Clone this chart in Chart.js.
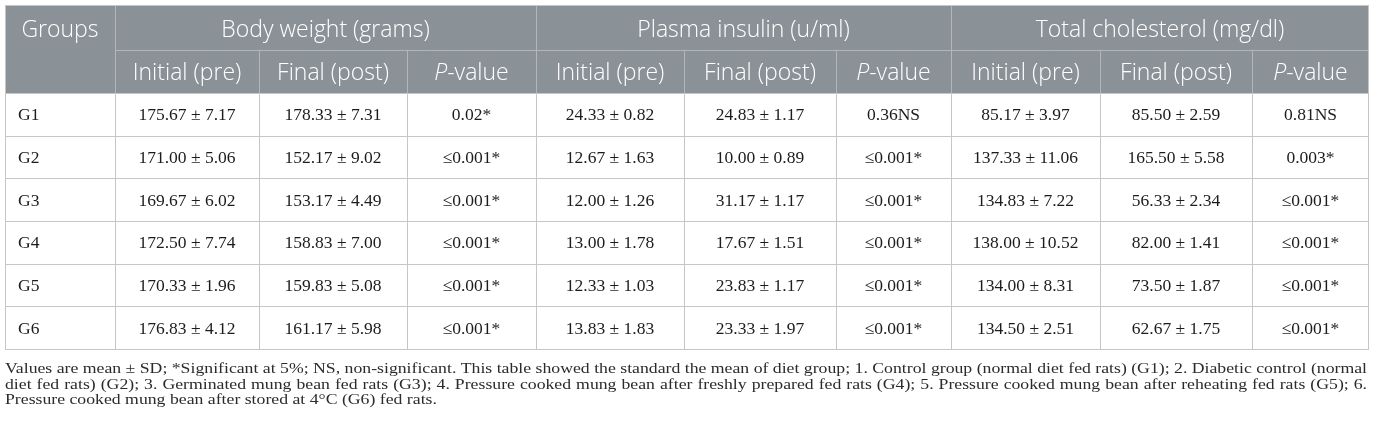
<!DOCTYPE html>
<html>
<head>
<meta charset="utf-8">
<script src="https://cdn.jsdelivr.net/npm/chart.js@4.4.0/dist/chart.umd.min.js"></script>
<style>
  html, body { margin: 0; padding: 0; background: #fff; }
  #wrap { width: 1375px; height: 432px; position: relative; }
</style>
</head>
<body>
<div id="wrap"><canvas id="tableChart"></canvas></div>
<script>
'use strict'

// row labels
const groups = ['G1', 'G2', 'G3', 'G4', 'G5', 'G6'];

// body weight (grams)
const bwPreMean = [175.67, 171.00, 169.67, 172.50, 170.33, 176.83];
const bwPreSD = [7.17, 5.06, 6.02, 7.74, 1.96, 4.12];
const bwPostMean = [178.33, 152.17, 153.17, 158.83, 159.83, 161.17];
const bwPostSD = [7.31, 9.02, 4.49, 7.00, 5.08, 5.98];
const bwP = ['0.02*', '≤0.001*', '≤0.001*', '≤0.001*', '≤0.001*', '≤0.001*'];

// plasma insulin (u/ml)
const insPreMean = [24.33, 12.67, 12.00, 13.00, 12.33, 13.83];
const insPreSD = [0.82, 1.63, 1.26, 1.78, 1.03, 1.83];
const insPostMean = [24.83, 10.00, 31.17, 17.67, 23.83, 23.33];
const insPostSD = [1.17, 0.89, 1.17, 1.51, 1.17, 1.97];
const insP = ['0.36NS', '≤0.001*', '≤0.001*', '≤0.001*', '≤0.001*', '≤0.001*'];

// total cholesterol (mg/dl)
const cholPreMean = [85.17, 137.33, 134.83, 138.00, 134.00, 134.50];
const cholPreSD = [3.97, 11.06, 7.22, 10.52, 8.31, 2.51];
const cholPostMean = [85.50, 165.50, 56.33, 82.00, 73.50, 62.67];
const cholPostSD = [2.59, 5.58, 2.34, 1.41, 1.87, 1.75];
const cholP = ['0.81NS', '0.003*', '≤0.001*', '≤0.001*', '≤0.001*', '≤0.001*'];

// header texts
const firstHead = 'Groups';
const measures = ['Body weight (grams)', 'Plasma insulin (u/ml)', 'Total cholesterol (mg/dl)'];
const subHeads = ['Initial (pre)', 'Final (post)', 'P-value'];

const footnote = [
    'Values are mean ± SD; *Significant at 5%; NS, non-significant. This table showed the standard the mean of diet group; 1. Control group (normal diet fed rats) (G1); 2. Diabetic control (normal',
    'diet fed rats) (G2); 3. Germinated mung bean fed rats (G3); 4. Pressure cooked mung bean after freshly prepared fed rats (G4); 5. Pressure cooked mung bean after reheating fed rats (G5); 6.',
    'Pressure cooked mung bean after stored at 4°C (G6) fed rats.'
];

// layout (scale units = px of the table)
const colWidths = [110, 144, 148, 129, 148, 152, 115, 149, 152, 117];
const headHeights = [45, 43];
const rowHeight = 42.67;

const HEAD_BG = '#8a9297';
const HEAD_LINE = '#b2b7ba';
const GRID = '#c6c6c6';
const SANS = '"Open Sans", "Noto Sans", sans-serif';
const SERIF = '"Liberation Serif", "DejaVu Serif", serif';
const HEAD_FONT = '300 23px ' + SANS;
const HEAD_FONT_I = 'italic 300 23px ' + SANS;

function fmt(m, sd) {
    return m.toFixed(2) + ' ± ' + sd.toFixed(2);
}

// build cell strings column by column
let cells = [groups];
[[bwPreMean, bwPreSD, bwPostMean, bwPostSD, bwP],
 [insPreMean, insPreSD, insPostMean, insPostSD, insP],
 [cholPreMean, cholPreSD, cholPostMean, cholPostSD, cholP]].forEach(function(m) {
    cells.push(m[0].map((v, i) => fmt(v, m[1][i])));
    cells.push(m[2].map((v, i) => fmt(v, m[3][i])));
    cells.push(m[4]);
});

let colEdges = [0];
colWidths.forEach(w => colEdges.push(colEdges[colEdges.length - 1] + w));
let rowEdges = [0, headHeights[0], headHeights[0] + headHeights[1]];
for (let r = 0; r < groups.length; r++) {
    rowEdges.push(rowEdges[rowEdges.length - 1] + rowHeight);
}
const totalW = colEdges[colEdges.length - 1];
const totalH = rowEdges[rowEdges.length - 1];

// one scatter dataset per column, one point per group (cell centre)
let datasets = cells.map(function(col, c) {
    return {
        label: c === 0 ? firstHead : 'col' + c,
        data: col.map((t, r) => ({
            x: (colEdges[c] + colEdges[c + 1]) / 2,
            y: (rowEdges[r + 2] + rowEdges[r + 3]) / 2
        })),
        pointRadius: 0,
        pointHoverRadius: 0
    };
});

function drawHeadText(ctx, text, x, y) {
    if (text === 'P-value') {
        ctx.font = HEAD_FONT_I;
        let wp = ctx.measureText('P').width;
        ctx.font = HEAD_FONT;
        let wr = ctx.measureText('-value').width;
        let x0 = x - (wp + wr) / 2;
        ctx.textAlign = 'left';
        ctx.font = HEAD_FONT_I;
        ctx.fillText('P', x0, y);
        ctx.font = HEAD_FONT;
        ctx.fillText('-value', x0 + wp, y);
        ctx.textAlign = 'center';
        return;
    }
    ctx.font = HEAD_FONT;
    ctx.fillText(text, x, y);
}

// draws a line of the note, spread to the full width unless it is the last one
function drawJustified(ctx, text, x, y, width, last) {
    if (last) {
        ctx.fillText(text, x, y);
        return;
    }
    let words = text.split(' ');
    let total = 0;
    words.forEach(w => total += ctx.measureText(w).width);
    let gap = (width - total) / (words.length - 1);
    let cx = x;
    words.forEach(function(w) {
        ctx.fillText(w, cx, y);
        cx += ctx.measureText(w).width + gap;
    });
}

const tablePlugin = {
    id: 'tableDraw',
    afterDatasetsDraw(chart) {
        const ctx = chart.ctx;
        const xs = chart.scales.x;
        const ys = chart.scales.y;
        const px = v => Math.round(xs.getPixelForValue(v));
        const py = v => Math.round(ys.getPixelForValue(v));
        const left = px(0), right = px(totalW);
        const top = py(0), bottom = py(totalH);
        const headBottom = py(rowEdges[2]);
        const headMid = py(rowEdges[1]);

        ctx.save();
        // header background
        ctx.fillStyle = HEAD_BG;
        ctx.fillRect(left, top, right - left, headBottom - top);

        ctx.lineWidth = 1;
        // header lines
        ctx.strokeStyle = HEAD_LINE;
        ctx.beginPath();
        ctx.moveTo(px(colEdges[1]), headMid + 0.5);
        ctx.lineTo(right, headMid + 0.5);
        for (let c = 1; c < colEdges.length - 1; c++) {
            let x = px(colEdges[c]) + 0.5;
            let y0 = (c % 3 === 1) ? top : headMid;
            ctx.moveTo(x, y0);
            ctx.lineTo(x, headBottom);
        }
        ctx.stroke();

        // body grid
        ctx.strokeStyle = GRID;
        ctx.beginPath();
        for (let r = 2; r < rowEdges.length; r++) {
            let y = py(rowEdges[r]) + 0.5;
            ctx.moveTo(left, y);
            ctx.lineTo(right, y);
        }
        for (let c = 0; c < colEdges.length; c++) {
            let x = px(colEdges[c]) + (c === colEdges.length - 1 ? -0.5 : 0.5);
            ctx.moveTo(x, headBottom);
            ctx.lineTo(x, bottom);
        }
        // outer border
        ctx.moveTo(left, top + 0.5);
        ctx.lineTo(right, top + 0.5);
        ctx.moveTo(left + 0.5, top);
        ctx.lineTo(left + 0.5, headBottom);
        ctx.moveTo(right - 0.5, top);
        ctx.lineTo(right - 0.5, headBottom);
        ctx.stroke();

        // header texts
        ctx.fillStyle = '#ffffff';
        ctx.textAlign = 'center';
        ctx.textBaseline = 'middle';
        let hy1 = ys.getPixelForValue(rowEdges[1] / 2) + 3;
        let hy2 = ys.getPixelForValue((rowEdges[1] + rowEdges[2]) / 2) + 1.5;
        drawHeadText(ctx, firstHead, xs.getPixelForValue(colEdges[1] / 2), hy1);
        measures.forEach(function(m, i) {
            let x = xs.getPixelForValue((colEdges[1 + i * 3] + colEdges[4 + i * 3]) / 2);
            drawHeadText(ctx, m, x, hy1);
            subHeads.forEach(function(s, j) {
                let c = 1 + i * 3 + j;
                drawHeadText(ctx, s, xs.getPixelForValue((colEdges[c] + colEdges[c + 1]) / 2), hy2);
            });
        });

        // body cells from dataset points
        ctx.fillStyle = '#1c1c1c';
        ctx.font = '17.5px ' + SERIF;
        chart.data.datasets.forEach(function(ds, c) {
            const meta = chart.getDatasetMeta(c);
            meta.data.forEach(function(pt, r) {
                if (c === 0) {
                    ctx.textAlign = 'left';
                    ctx.fillText(cells[c][r], left + 13, pt.y + 1.5);
                } else {
                    ctx.textAlign = 'center';
                    ctx.fillText(cells[c][r], pt.x, pt.y + 1.5);
                }
            });
        });

        // footnote: the printed note is a little wider than tall, stretch it
        ctx.fillStyle = '#2b2b2b';
        ctx.font = '15.5px ' + SERIF;
        ctx.textAlign = 'left';
        ctx.textBaseline = 'alphabetic';
        const noteW = right - left - 2;
        const sx = noteW / ctx.measureText(footnote[0]).width;
        ctx.save();
        ctx.translate(left, 0);
        ctx.scale(sx, 1);
        footnote.forEach(function(line, i) {
            drawJustified(ctx, line, 0, bottom + 24 + i * 15.5, noteW / sx, i === footnote.length - 1);
        });
        ctx.restore();
        ctx.restore();
    }
};

const chart = new Chart(document.getElementById('tableChart'), {
    type: 'scatter',
    data: { datasets: datasets },
    options: {
        responsive: true,
        maintainAspectRatio: false,
        animation: false,
        events: [],
        layout: {
            autoPadding: false,
            padding: { left: 5, top: 5, right: 6, bottom: 83 }
        },
        scales: {
            x: { type: 'linear', min: 0, max: totalW, display: false },
            y: { type: 'linear', min: 0, max: totalH, reverse: true, display: false }
        },
        plugins: {
            legend: { display: false },
            tooltip: { enabled: false }
        }
    },
    plugins: [tablePlugin]
});
</script>
</body>
</html>
